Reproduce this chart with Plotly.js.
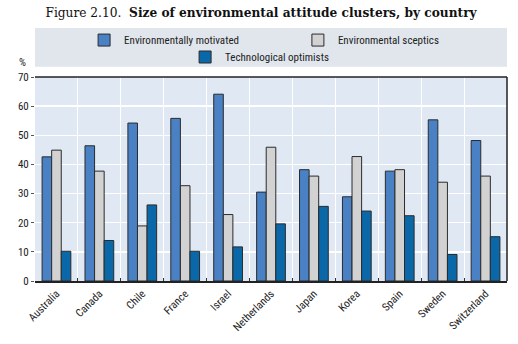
<!DOCTYPE html>
<html>
<head>
<meta charset="utf-8">
<script src="https://cdn.plot.ly/plotly-3.0.1.min.js"></script>
<style>html,body{margin:0;padding:0;background:#fff;}#chart{width:518px;height:344px;}</style>
</head>
<body>
<div id="chart"></div>
<script>
var countries = ["Australia","Canada","Chile","France","Israel","Netherlands","Japan","Korea","Spain","Sweden","Switzerland"];
var envMotivated = [42.6, 46.4, 54.2, 55.8, 64.1, 30.5, 38.2, 28.9, 37.7, 55.3, 48.2];
var envSceptics = [44.9, 37.7, 18.9, 32.7, 22.8, 45.9, 36.0, 42.7, 38.2, 33.9, 36.0];
var techOptimists = [10.2, 13.9, 26.1, 10.2, 11.7, 19.6, 25.6, 24.0, 22.4, 9.1, 15.2];
var yTicks = [0, 10, 20, 30, 40, 50, 60, 70];

var sansFont = "'Liberation Sans Narrow', 'Roboto Condensed', 'Liberation Sans', Arial, sans-serif";
var lineStyle = {color: '#2b2b2b', width: 1};

var traces = [
  {type: 'bar', name: 'Environmentally motivated', x: countries, y: envMotivated,
   marker: {color: '#4a80c4', line: lineStyle}, legend: 'legend'},
  {type: 'bar', name: 'Environmental sceptics', x: countries, y: envSceptics,
   marker: {color: '#d2d2d2', line: lineStyle}, legend: 'legend2'},
  {type: 'bar', name: 'Technological optimists', x: countries, y: techOptimists,
   marker: {color: '#0b68a8', line: lineStyle}, legend: 'legend3'}
];

function leg(x, y) {
  return {orientation: 'h', x: x, xanchor: 'left', y: y, yanchor: 'middle',
          bgcolor: 'rgba(0,0,0,0)', font: {family: sansFont, size: 11, color: '#222'},
          itemwidth: 30};
}

var layout = {
  width: 518, height: 344,
  margin: {l: 35, r: 11, t: 77, b: 63},
  paper_bgcolor: '#ffffff',
  plot_bgcolor: '#dfe8f3',
  barmode: 'group',
  bargap: 0.33,
  bargroupgap: 0,
  font: {family: sansFont, size: 11, color: '#222'},
  title: {
    text: "Figure 2.10.  <b>Size of environmental attitude clusters, by country</b>",
    font: {family: "'DejaVu Serif', 'Liberation Serif', serif", size: 12.2, color: '#111'},
    x: 0.504, xanchor: 'center', y: 0.963, yanchor: 'middle'
  },
  xaxis: {
    type: 'category',
    tickangle: -45,
    tickson: 'boundaries',
    ticks: 'inside', ticklen: 3, tickcolor: '#333',
    showgrid: true, gridcolor: '#ffffff', gridwidth: 1,
    showline: true, linecolor: '#222', linewidth: 2,
    tickfont: {family: sansFont, size: 11, color: '#222'},
    fixedrange: true
  },
  yaxis: {
    range: [0, 70],
    tickvals: yTicks,
    ticks: 'outside', ticklen: 3, tickcolor: '#555',
    showgrid: true, gridcolor: '#ffffff', gridwidth: 1.5,
    zeroline: false, showline: false,
    tickfont: {family: sansFont, size: 11, color: '#222'},
    fixedrange: true
  },
  showlegend: true,
  legend: leg(0.104, 1.181),
  legend2: leg(0.557, 1.181),
  legend3: leg(0.318, 1.098),
  shapes: [
    {type: 'rect', xref: 'paper', yref: 'paper', x0: 0, x1: 1, y0: 1.05, y1: 1.24,
     fillcolor: '#e0e6ec', line: {width: 0}, layer: 'below'},
    {type: 'line', xref: 'paper', yref: 'paper', x0: 0, x1: 1, y0: 1, y1: 1,
     line: {color: '#222', width: 1.5}},
    {type: 'line', xref: 'paper', yref: 'paper', x0: 1, x1: 1, y0: 0, y1: 1,
     line: {color: '#222', width: 1.5}}
  ],
  annotations: [
    {text: '%', xref: 'paper', yref: 'paper', x: -0.015, y: 1.07, xanchor: 'right', yanchor: 'middle',
     showarrow: false, font: {family: sansFont, size: 11, color: '#222'}}
  ]
};

Plotly.newPlot('chart', traces, layout, {displayModeBar: false, staticPlot: true});
</script>
</body>
</html>
